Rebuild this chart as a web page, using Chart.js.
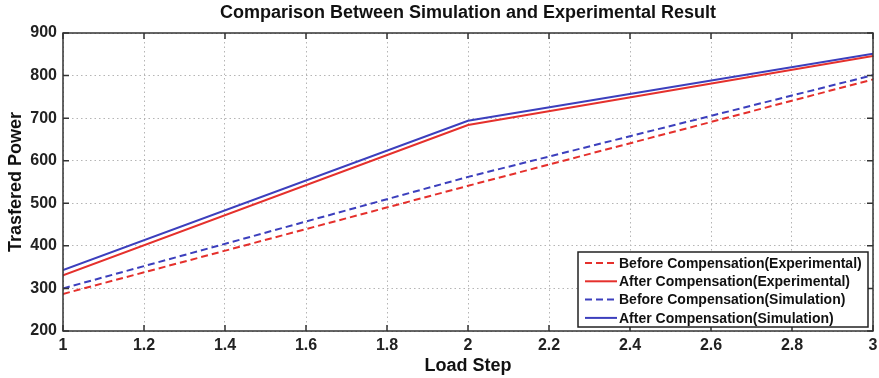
<!DOCTYPE html>
<html>
<head>
<meta charset="utf-8">
<script src="https://cdn.jsdelivr.net/npm/chart.js@4.4.1/dist/chart.umd.min.js"></script>
<style>
  html, body { margin: 0; padding: 0; background: #fff; }
  #wrap { width: 879px; height: 378px; }
</style>
</head>
<body>
<div id="wrap"><canvas id="NCI-Chart__power"></canvas></div>
<script>
// data
const loadSteps = [1, 2, 3];
const beforeExp = [287, 541, 791];
const afterExp = [331, 684, 846];
const beforeSim = [300, 562, 801];
const afterSim = [343, 694, 851];

const xTicks = [1, 1.2, 1.4, 1.6, 1.8, 2, 2.2, 2.4, 2.6, 2.8, 3];
const yTicks = [200, 300, 400, 500, 600, 700, 800, 900];

const seriesNames = [
  'Before Compensation(Experimental)',
  'After Compensation(Experimental)',
  'Before Compensation(Simulation)',
  'After Compensation(Simulation)'
];
const titleText = 'Comparison Between Simulation and Experimental Result';

const RED = '#e5302c';
const BLUE = '#3c3fbd';
const FONT = '"Liberation Sans", Arial, sans-serif';

function pts(arr) {
  return arr.map((v, i) => ({ x: loadSteps[i], y: v }));
}

// title centred over the axes, not the canvas
const axesTitle = {
  id: 'axesTitle',
  afterDraw(chart) {
    const { ctx, chartArea: a } = chart;
    ctx.save();
    ctx.font = 'bold 18px ' + FONT;
    ctx.fillStyle = '#111';
    ctx.textAlign = 'center';
    ctx.textBaseline = 'middle';
    ctx.fillText(titleText, (a.left + a.right) / 2, 13);
    ctx.restore();
  }
};

// matlab-ish box with inward ticks
const boxPlugin = {
  id: 'box',
  afterDatasetsDraw(chart) {
    const { ctx, chartArea: a, scales: { x, y } } = chart;
    ctx.save();
    ctx.strokeStyle = '#333';
    ctx.lineWidth = 1.5;
    ctx.beginPath();
    xTicks.forEach(v => {
      const px = x.getPixelForValue(v);
      ctx.moveTo(px, a.bottom); ctx.lineTo(px, a.bottom - 6);
      ctx.moveTo(px, a.top); ctx.lineTo(px, a.top + 6);
    });
    yTicks.forEach(v => {
      const py = y.getPixelForValue(v);
      ctx.moveTo(a.left, py); ctx.lineTo(a.left + 6, py);
      ctx.moveTo(a.right, py); ctx.lineTo(a.right - 6, py);
    });
    ctx.stroke();
    ctx.strokeRect(a.left, a.top, a.right - a.left, a.bottom - a.top);
    ctx.restore();
  }
};

// legend box sits inside the plot, lower right
const legendBox = {
  id: 'legendBox',
  afterDraw(chart) {
    const { ctx, chartArea: a } = chart;
    const w = 290, h = 75;
    const x0 = a.right - 5 - w, y0 = a.bottom - 4 - h;
    ctx.save();
    ctx.fillStyle = '#fff';
    ctx.fillRect(x0, y0, w, h);
    ctx.strokeStyle = '#222';
    ctx.lineWidth = 1.5;
    ctx.strokeRect(x0, y0, w, h);
    ctx.font = 'bold 14px ' + FONT;
    ctx.textBaseline = 'middle';
    chart.data.datasets.forEach((ds, i) => {
      const yy = y0 + 11 + i * 18.3;
      ctx.strokeStyle = ds.borderColor;
      ctx.lineWidth = 2;
      ctx.setLineDash(ds.borderDash || []);
      ctx.beginPath();
      ctx.moveTo(x0 + 7, yy);
      ctx.lineTo(x0 + 39, yy);
      ctx.stroke();
      ctx.setLineDash([]);
      ctx.fillStyle = '#111';
      ctx.fillText(ds.label, x0 + 41, yy + 1);
    });
    ctx.restore();
  }
};

new Chart('NCI-Chart__power', {
  type: 'line',
  data: {
    datasets: [{
      label: seriesNames[0],
      data: pts(beforeExp),
      borderColor: RED,
      borderDash: [7, 4]
    }, {
      label: seriesNames[1],
      data: pts(afterExp),
      borderColor: RED
    }, {
      label: seriesNames[2],
      data: pts(beforeSim),
      borderColor: BLUE,
      borderDash: [7, 4]
    }, {
      label: seriesNames[3],
      data: pts(afterSim),
      borderColor: BLUE
    }]
  },
  options: {
    responsive: true,
    maintainAspectRatio: false,
    animation: false,
    layout: { padding: { top: 33, right: 6, bottom: 0, left: 0 } },
    elements: {
      line: { borderWidth: 2, tension: 0 },
      point: { radius: 0 }
    },
    plugins: {
      legend: { display: false },
      tooltip: { enabled: false },
      title: { display: false }
    },
    scales: {
      x: {
        type: 'linear',
        min: 1,
        max: 3,
        afterBuildTicks: s => { s.ticks = xTicks.map(v => ({ value: v })); },
        afterFit: s => { s.height = 47; s.paddingLeft = 0; s.paddingRight = 0; },
        ticks: {
          color: '#222',
          padding: 5,
          font: { family: FONT, size: 16, weight: 'bold' },
          callback: v => String(Number(v.toFixed(1)))
        },
        grid: { color: '#b5b5b5', lineWidth: 1, drawTicks: false },
        border: { display: false, dash: [1.5, 3] },
        title: {
          display: true,
          text: 'Load Step',
          color: '#111',
          font: { family: FONT, size: 18, weight: 'bold' },
          padding: { top: 0, bottom: 1 }
        }
      },
      y: {
        min: 200,
        max: 900,
        afterBuildTicks: s => { s.ticks = yTicks.map(v => ({ value: v })); },
        afterFit: s => { s.width = 63; s.paddingTop = 0; s.paddingBottom = 0; },
        ticks: {
          color: '#222',
          padding: 6,
          font: { family: FONT, size: 16, weight: 'bold' }
        },
        grid: { color: '#b5b5b5', lineWidth: 1, drawTicks: false },
        border: { display: false, dash: [1.5, 3] },
        title: {
          display: true,
          text: 'Trasfered Power',
          color: '#111',
          font: { family: FONT, size: 18, weight: 'bold' },
          padding: { top: 5, bottom: 0 }
        }
      }
    }
  },
  plugins: [boxPlugin, legendBox, axesTitle]
});
</script>
</body>
</html>
